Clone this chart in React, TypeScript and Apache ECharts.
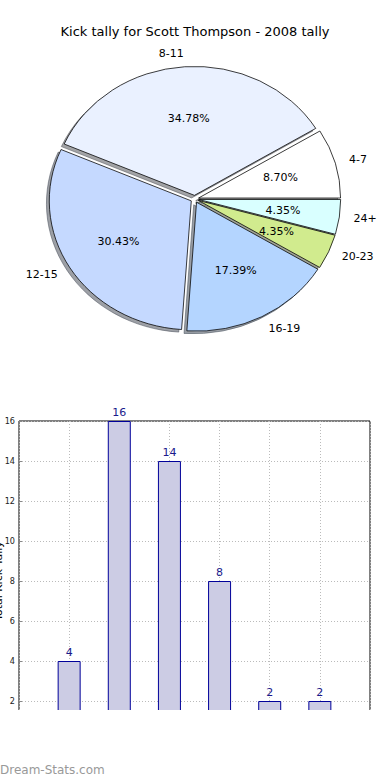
import React, { useEffect, useRef } from "react";
import * as echarts from "echarts";

const titleText = "Kick tally for Scott Thompson - 2008 tally";
const pieLabels = ["4-7", "8-11", "12-15", "16-19", "20-23", "24+"];
const pieValues = [2, 8, 7, 4, 1, 1];
const pieColors = ["#FFFFFF", "#EAF1FF", "#C5D9FF", "#B4D5FF", "#D1EB8E", "#D9FFFF"];
const barPositions = [1, 2, 3, 4, 5, 6];
const barValues = [4, 16, 14, 8, 2, 2];
const yAxisName = "Total Kick Tally";
const watermark = "Dream-Stats.com";

const FONT = "'DejaVu Sans', 'Noto Sans', sans-serif";

function hexToRgb(h: string) {
  const n = parseInt(h.slice(1), 16);
  return [(n >> 16) & 255, (n >> 8) & 255, n & 255];
}

export default function App() {
  const ref = useRef<HTMLDivElement>(null);
  useEffect(() => {
    if (!ref.current) return;
    const chart = echarts.init(ref.current, undefined, { renderer: "svg" });
    const total = pieValues.reduce((a, b) => a + b, 0);
    const cx = 194.7, cy = 199, rx = 142, ry = 129;
    const k = ry / rx;
    const explode = 4;

    const geom = (i: number) => {
      let before = 0;
      for (let j = 0; j < i; j++) before += pieValues[j];
      const a1 = (before / total) * Math.PI * 2;
      const a2 = ((before + pieValues[i]) / total) * Math.PI * 2;
      const m = (a1 + a2) / 2;
      const ox = explode * Math.cos(m);
      const oy = -explode * k * Math.sin(m);
      return { a1, a2, m, ox, oy };
    };

    const shadowSeries = {
      type: "custom",
      coordinateSystem: "none",
      z: 1,
      silent: true,
      data: pieValues,
      renderItem: (params: any) => {
        const i = params.dataIndex;
        const g = geom(i);
        const [r, gg, b] = hexToRgb(pieColors[i]);
        const fill = `rgba(${Math.round(r * 0.3)},${Math.round(gg * 0.3)},${Math.round(b * 0.3)},0.5)`;
        return {
          type: "group",
          x: cx + g.ox - 0.02 * rx,
          y: cy + g.oy + 0.02 * ry,
          scaleY: k,
          children: [
            {
              type: "sector",
              shape: { cx: 0, cy: 0, r0: 0, r: rx, startAngle: -g.a2, endAngle: -g.a1, clockwise: true },
              style: { fill, stroke: fill, lineWidth: 1, strokeNoScale: true },
            },
          ],
        };
      },
    };

    const sliceSeries = {
      type: "custom",
      coordinateSystem: "none",
      z: 2,
      silent: true,
      data: pieValues,
      renderItem: (params: any) => {
        const i = params.dataIndex;
        const g = geom(i);
        const pcx = cx + g.ox, pcy = cy + g.oy;
        const cm = Math.cos(g.m), sm = Math.sin(g.m);
        const pct = ((pieValues[i] / total) * 100).toFixed(2) + "%";
        return {
          type: "group",
          children: [
            {
              type: "group",
              x: pcx,
              y: pcy,
              scaleY: k,
              children: [
                {
                  type: "sector",
                  shape: { cx: 0, cy: 0, r0: 0, r: rx, startAngle: -g.a2, endAngle: -g.a1, clockwise: true },
                  style: { fill: pieColors[i], stroke: "#000", lineWidth: 0.8, strokeNoScale: true },
                },
              ],
            },
            {
              type: "text",
              x: pcx + 1.1 * rx * cm,
              y: pcy - 1.1 * ry * sm,
              style: {
                text: pieLabels[i],
                fill: "#000",
                fontSize: 11,
                fontFamily: FONT,
                align: cm > 0 ? "left" : "right",
                verticalAlign: "middle",
              },
            },
            {
              type: "text",
              x: pcx + 0.6 * rx * cm,
              y: pcy - 0.6 * ry * sm,
              z2: 10,
              style: {
                text: pct,
                fill: "#000",
                fontSize: 11,
                fontFamily: FONT,
                align: "center",
                verticalAlign: "middle",
              },
            },
          ],
        };
      },
    };

    const gridLine = { show: true, lineStyle: { color: "#bbbbbb", type: [1, 2], width: 1 } };

    chart.setOption({
      animation: false,
      title: {
        text: titleText,
        left: "center",
        top: 20,
        textStyle: { fontSize: 13, fontWeight: "normal", color: "#000", fontFamily: FONT },
      },
      grid: {
        left: 19,
        top: 421,
        right: 20,
        bottom: 39,
        show: true,
        containLabel: false,
        outerBoundsMode: "none",
        borderColor: "#000",
        borderWidth: 1,
        backgroundColor: "transparent",
      },
      xAxis: {
        type: "value",
        min: 0,
        max: 7,
        interval: 1,
        axisLabel: { show: false },
        axisTick: { show: false },
        axisLine: { show: false },
        splitLine: gridLine,
      },
      yAxis: {
        type: "value",
        min: 0,
        max: 16,
        interval: 2,
        name: yAxisName,
        nameLocation: "middle",
        nameRotate: 90,
        nameGap: 15,
        nameMoveOverlap: false,
        nameTextStyle: { fontSize: 11, color: "#000", fontFamily: FONT },
        axisLine: { show: false },
        axisTick: { show: true, inside: true, length: 3, lineStyle: { color: "#888" } },
        axisLabel: {
          fontSize: 9,
          color: "#222",
          margin: 4,
          fontFamily: "'DejaVu Sans Condensed', 'Liberation Sans Narrow', 'DejaVu Sans', sans-serif",
        },
        splitLine: gridLine,
      },
      series: [
        shadowSeries,
        sliceSeries,
        {
          type: "bar",
          data: barPositions.map((p, i) => [p, barValues[i]]),
          barWidth: 23,
          itemStyle: { color: "#CCCCE4", borderColor: "#000099", borderWidth: 1 },
          label: {
            show: true,
            position: "top",
            distance: 3,
            color: "#1a1a8c",
            fontSize: 11,
            fontFamily: FONT,
          },
        },
      ],
      graphic: [
        {
          type: "rect",
          z: 100,
          shape: { x: 0, y: 710, width: 390, height: 70 },
          style: { fill: "#fff" },
        },
        {
          type: "text",
          z: 101,
          x: 0,
          y: 770,
          style: {
            text: watermark,
            fill: "#999",
            fontSize: 12,
            fontFamily: FONT,
            verticalAlign: "middle",
          },
        },
      ],
    } as any);
    return () => chart.dispose();
  }, []);
  return <div ref={ref} style={{ position: "absolute", left: 0, top: 0, width: 390, height: 780 }} />;
}
